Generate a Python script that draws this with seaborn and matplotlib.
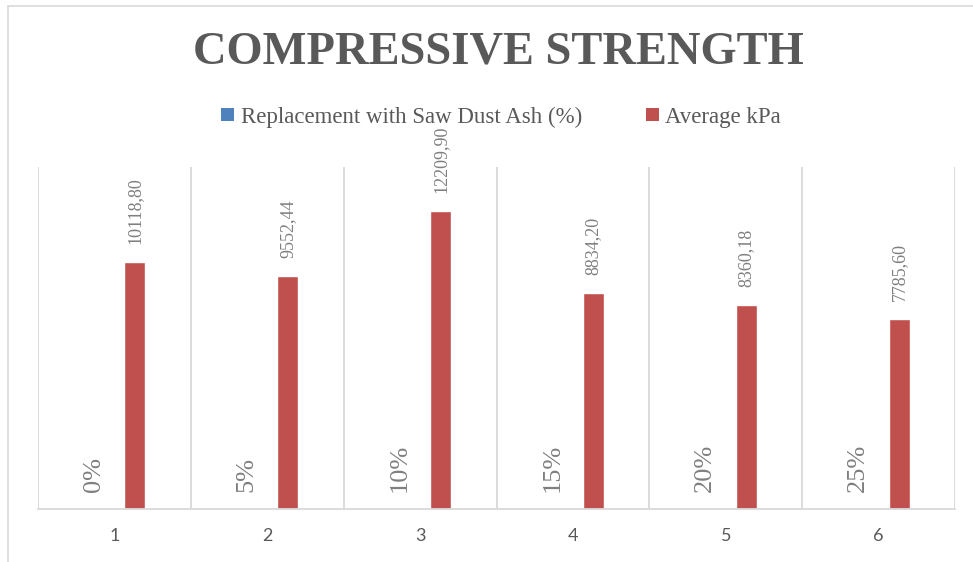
import matplotlib
matplotlib.use("Agg")
import matplotlib.pyplot as plt
from matplotlib.patches import Patch
from matplotlib.lines import Line2D
import seaborn as sns
import pandas as pd

# Chart data
categories = ["1", "2", "3", "4", "5", "6"]
replacement_pct = [0, 5, 10, 15, 20, 25]
average_kpa = [10118.80, 9552.44, 12209.90, 8834.20, 8360.18, 7785.60]
series_names = ["Replacement with Saw Dust Ash (%)", "Average kPa"]
series_colors = ["#4f81bd", "#c0504d"]

df = pd.DataFrame({
    "sample": categories * 2,
    "series": [series_names[0]] * len(categories) + [series_names[1]] * len(categories),
    "value": [p / 100 for p in replacement_pct] + average_kpa,
})

sns.set_style("white")
plt.rcParams["font.family"] = ["Liberation Serif", "DejaVu Serif"]

fig = plt.figure(figsize=(9.73, 5.62), dpi=100)
ax = fig.add_axes([38 / 973, 1 - 509 / 562, (955 - 38) / 973, (509 - 167) / 562])

sns.barplot(data=df, x="sample", y="value", hue="series", order=categories,
            hue_order=series_names, palette=series_colors, width=0.536, gap=0.49,
            saturation=1, ax=ax, legend=False)

ax.set_xlim(-0.5, len(categories) - 0.5)
ax.set_ylim(0, 14000)
ax.set_xlabel("")
ax.set_ylabel("")
ax.set_yticks([])

# Vertical gridlines between categories
ax.set_xticks([i + 0.5 for i in range(-1, len(categories))], minor=True)
ax.grid(True, which="minor", axis="x", color="#d9d9d9", linewidth=1.3)
ax.grid(False, which="major")
ax.tick_params(axis="x", which="both", length=0, pad=14, labelsize=13,
               labelcolor="#595959")
for lab in ax.get_xticklabels():
    lab.set_fontfamily(["Lato", "DejaVu Sans"])

for side in ["top", "left", "right"]:
    ax.spines[side].set_visible(False)
ax.spines["bottom"].set_color("#d9d9d9")
ax.spines["bottom"].set_linewidth(1.3)

# Data labels
ax.bar_label(ax.containers[0], labels=[f"{p}%" for p in replacement_pct],
             rotation=90, padding=12, fontsize=19, color="#7f7f7f")
ax.bar_label(ax.containers[1], labels=[f"{v:.2f}".replace(".", ",") for v in average_kpa],
             rotation=90, padding=13, fontsize=13, color="#7f7f7f")

# Title and legend
fig.text(0.512, 1 - 52 / 562, "COMPRESSIVE STRENGTH", ha="center", va="center",
         fontsize=33.5, fontweight="bold", color="#595959")
handles = [Patch(facecolor=c, edgecolor="none") for c in series_colors]
fig.legend(handles, series_names, loc="center", bbox_to_anchor=(0.515, 1 - 117 / 562),
           ncol=2, frameon=False, fontsize=16.5, handlelength=0.55, handleheight=0.55,
           handletextpad=0.3, columnspacing=2.8, labelcolor="#595959")

# Chart area border
fig.add_artist(Line2D([8 / 973, 8 / 973], [0, 1 - 6 / 562], transform=fig.transFigure,
                      color="#d9d9d9", linewidth=1.2))
fig.add_artist(Line2D([8 / 973, 1], [1 - 6 / 562, 1 - 6 / 562], transform=fig.transFigure,
                      color="#d9d9d9", linewidth=1.2))

fig.savefig("out.png", dpi=100)
